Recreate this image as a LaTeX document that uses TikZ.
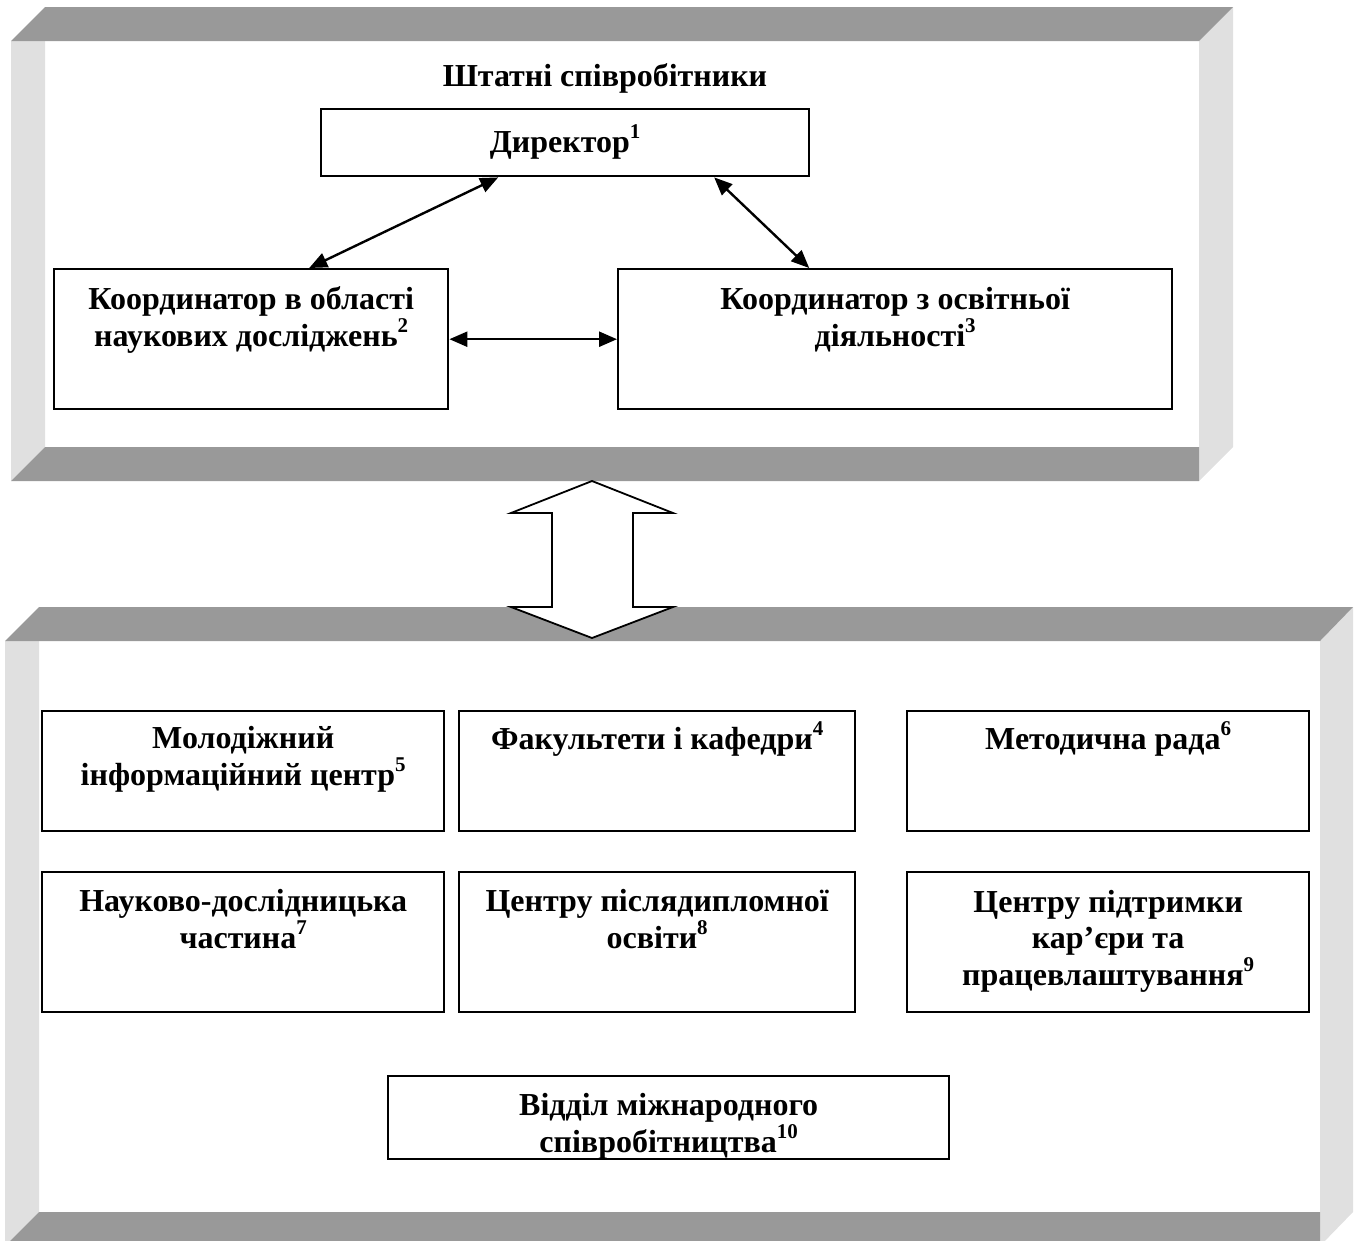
\documentclass[tikz,border=0pt]{standalone}
\usepackage{fontspec}
\setmainfont{Liberation Serif}
\usetikzlibrary{positioning,arrows.meta}

% кольори смуг рамки
\definecolor{smugaTemna}{RGB}{153,153,153}
\definecolor{smugaSvitla}{RGB}{224,224,224}

% номер-виноска
\newcommand{\indeks}[1]{\raisebox{0.42em}{\fontsize{21}{21}\selectfont #1}}

\tikzset{
  blok/.style={draw, line width=2.4pt, inner sep=0pt, anchor=north west},
  napys/.style={font=\fontsize{32}{36.5}\selectfont\bfseries, align=center, inner sep=0pt, anchor=base},
  zvyazok/.style={line width=2.4pt, {Triangle[length=18pt,width=15pt]}-{Triangle[length=18pt,width=15pt]}}
}

\begin{document}
\begin{tikzpicture}[x=1pt, y=-1pt]

  \useasboundingbox (0,0) rectangle (1360,1240);

  % верхня рамка
  \fill[smugaSvitla] (11,41) -- (45,41) -- (45,447) -- (11,481) -- cycle;
  \fill[smugaSvitla] (1233,7) -- (1233,447) -- (1199,481) -- (1199,41) -- cycle;
  \fill[smugaTemna] (45,7) -- (1233,7) -- (1199,41) -- (11,41) -- cycle;
  \fill[smugaTemna] (45,447) -- (1199,447) -- (1199,481) -- (11,481) -- cycle;

  % нижня рамка
  \fill[smugaSvitla] (5,641) -- (39,641) -- (39,1212) -- (5,1246) -- cycle;
  \fill[smugaSvitla] (1353,607) -- (1353,1212) -- (1320,1246) -- (1320,641) -- cycle;
  \fill[smugaTemna] (39,607) -- (1353,607) -- (1320,641) -- (5,641) -- cycle;
  \fill[smugaTemna] (39,1212) -- (1320,1212) -- (1320,1246) -- (5,1246) -- cycle;

  % велика двобічна стрілка
  \draw[line width=1.8pt, fill=white] (592,481) -- (673,513) -- (633,513) -- (633,607)
    -- (673,607) -- (592,638) -- (511,607) -- (552,607) -- (552,513) -- (511,513) -- cycle;

  % штатні співробітники
  \node[napys] (shtat) at (605,86) {Штатні співробітники};

  \node[blok, minimum width=488pt, minimum height=67pt] (dir) at (320,108) {};
  \node[napys] (tDir) at ([yshift=-44pt]dir.north) {Директор\indeks{1}};

  \node[blok, minimum width=394pt, minimum height=140pt] (nauk) at (53,268) {};
  \node[napys] (tNauk) at ([yshift=-78pt]nauk.north) {Координатор в області\\наукових досліджень\indeks{2}};

  \node[blok, minimum width=554pt, minimum height=140pt] (osvit) at (617,268) {};
  \node[napys] (tOsvit) at ([yshift=-78pt]osvit.north) {Координатор з освітньої\\діяльності\indeks{3}};

  % зв'язки
  \draw[zvyazok] ([xshift=-67pt]dir.south) -- ([xshift=58pt]nauk.north);
  \draw[zvyazok] ([xshift=149pt]dir.south) -- ([xshift=-86pt]osvit.north);
  \draw[zvyazok] (nauk.east) -- (osvit.west);

  % підрозділи
  \node[blok, minimum width=402pt, minimum height=120pt] (molod) at (41,710) {};
  \node[napys] (tMolod) at ([yshift=-75pt]molod.north) {Молодіжний\\інформаційний центр\indeks{5}};

  \node[blok, minimum width=396pt, minimum height=120pt] (fakult) at (458,710) {};
  \node[napys] (tFakult) at ([yshift=-39pt]fakult.north) {Факультети і кафедри\indeks{4}};

  \node[blok, minimum width=402pt, minimum height=120pt] (metod) at (906,710) {};
  \node[napys] (tMetod) at ([yshift=-39pt]metod.north) {Методична рада\indeks{6}};

  \node[blok, minimum width=402pt, minimum height=140pt] (ndch) at (41,871) {};
  \node[napys] (tNdch) at ([yshift=-77pt]ndch.north) {Науково-дослідницька\\частина\indeks{7}};

  \node[blok, minimum width=396pt, minimum height=140pt] (pislya) at (458,871) {};
  \node[napys] (tPislya) at ([yshift=-77pt]pislya.north) {Центру післядипломної\\освіти\indeks{8}};

  \node[blok, minimum width=402pt, minimum height=140pt] (kariera) at (906,871) {};
  \node[napys] (tKariera) at ([yshift=-114pt]kariera.north) {Центру підтримки\\кар’єри та\\працевлаштування\indeks{9}};

  \node[blok, minimum width=561pt, minimum height=83pt] (mizhn) at (387,1075) {};
  \node[napys] (tMizhn) at ([yshift=-77pt]mizhn.north) {Відділ міжнародного\\співробітництва\indeks{10}};

\end{tikzpicture}
\end{document}
